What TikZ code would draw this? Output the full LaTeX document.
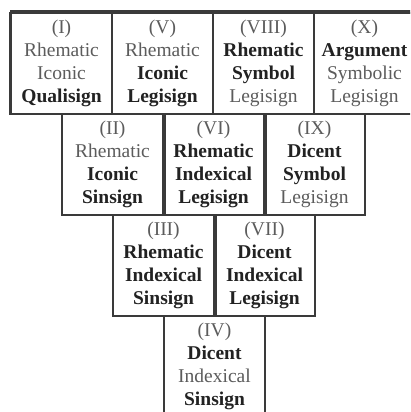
\documentclass[tikz,border=0pt]{standalone}
\usepackage{fontspec}
\setmainfont{Liberation Serif}
\definecolor{lineC}{HTML}{3A3A3A}
\definecolor{lightT}{HTML}{5C5C5C}
\definecolor{darkT}{HTML}{222222}
\newcommand{\Lt}[1]{\textcolor{lightT}{#1}}
\newcommand{\Bd}[1]{\textcolor{darkT}{\bfseries #1}}
\begin{document}
\begin{tikzpicture}[x=1pt,y=-1pt,
  cell/.style={draw=lineC, line width=2pt, minimum width=101pt, minimum height=101pt,
    inner sep=0pt, align=center, anchor=north west,
    font=\fontsize{19.5}{23}\selectfont, text=lightT}]
\useasboundingbox (0,0) rectangle (410,412);
\clip (0,0) rectangle (410,412);
\fill[white] (0,0) rectangle (410,412);
% row 1
\node[cell] (c1) at (10,12) {\Lt{(I)}\\\Lt{Rhematic}\\\Lt{Iconic}\\\Bd{Qualisign}};
\node[cell] (c5) at (111,12) {\Lt{(V)}\\\Lt{Rhematic}\\\Bd{Iconic}\\\Bd{Legisign}};
\node[cell] (c8) at (212,12) {\Lt{(VIII)}\\\Bd{Rhematic}\\\Bd{Symbol}\\\Lt{Legisign}};
\node[cell] (c10) at (313,12) {\Lt{(X)}\\\Bd{Argument}\\\Lt{Symbolic}\\\Lt{Legisign}};
% row 2
\node[cell] (c2) at (61,113) {\Lt{(II)}\\\Lt{Rhematic}\\\Bd{Iconic}\\\Bd{Sinsign}};
\node[cell] (c6) at (162,113) {\Lt{(VI)}\\\Bd{Rhematic}\\\Bd{Indexical}\\\Bd{Legisign}};
\node[cell] (c9) at (263,113) {\Lt{(IX)}\\\Bd{Dicent}\\\Bd{Symbol}\\\Lt{Legisign}};
% row 3
\node[cell] (c3) at (112,214) {\Lt{(III)}\\\Bd{Rhematic}\\\Bd{Indexical}\\\Bd{Sinsign}};
\node[cell] (c7) at (213,214) {\Lt{(VII)}\\\Bd{Dicent}\\\Bd{Indexical}\\\Bd{Legisign}};
% row 4
\node[cell] (c4) at (163,315) {\Lt{(IV)}\\\Bd{Dicent}\\\Lt{Indexical}\\\Bd{Sinsign}};
% heavier edges
\draw[lineC, line width=3.5pt] (c1.north west) -- (c10.north east);
\draw[lineC, line width=3pt] (c1.north west) -- (c1.south west);
\draw[lineC, line width=3pt] (c2.north east) -- (c2.south east);
\draw[lineC, line width=3pt] (c6.north east) -- (c6.south east);
\draw[lineC, line width=3pt] (c3.north east) -- (c3.south east);
\end{tikzpicture}
\end{document}
